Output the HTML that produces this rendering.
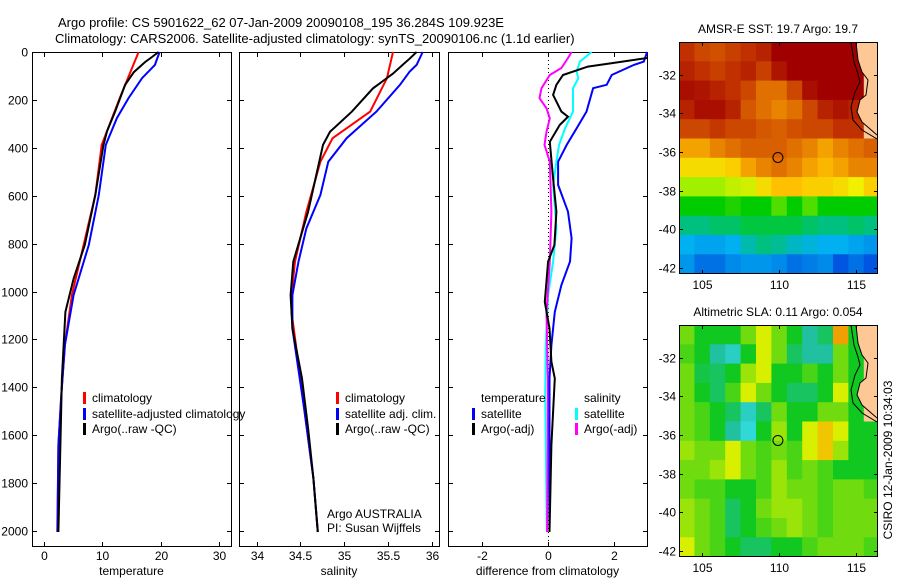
<!DOCTYPE html>
<html><head><meta charset="utf-8"><style>
body{margin:0;background:#fff;}
svg{display:block;font-family:"Liberation Sans",sans-serif;}
</style></head><body>
<svg id="fig" width="900" height="580" viewBox="0 0 900 580" xmlns="http://www.w3.org/2000/svg">
<rect width="900" height="580" fill="#fff"/>
<text x="58" y="27" font-size="13">Argo profile: CS 5901622_62 07-Jan-2009 20090108_195 36.284S 109.923E</text>
<text x="55" y="43" font-size="13">Climatology: CARS2006. Satellite-adjusted climatology: synTS_20090106.nc (1.1d earlier)</text>
<g id="panels"></g>
<g id="maps"></g>
<text transform="translate(892,460) rotate(-90)" text-anchor="middle" font-size="12">CSIRO 12-Jan-2009 10:34:03</text>
</svg>
<script>
// ---- Temperature panel data ----
const tClimDepth=[0,192,388,597,806,1015,1223,1432,1641,2004];
const tClimVal=[16.2,13.0,9.9,8.8,6.8,4.8,3.6,3.0,2.5,2.3];
const tSatDepth=[0,54,109,192,276,388,597,806,1015,1223,1432,1641,2004];
const tSatVal=[19.8,19.0,16.8,14.5,12.5,10.6,9.4,7.7,5.1,3.6,3.0,2.5,2.35];
const tArgoDepth=[0,21,42,84,137,248,331,388,597,806,946,1085,1363,2004];
const tArgoVal=[19.6,18.5,17.3,15.4,13.9,12.2,10.8,10.2,8.8,7.0,5.1,3.7,3.1,2.5];
// ---- Salinity panel data ----
const sClimDepth=[0,110,249,360,458,667,875,1015,1085,1223,1502,1780,2004];
const sClimVal=[35.56,35.49,35.30,34.87,34.73,34.57,34.44,34.40,34.40,34.45,34.55,34.65,34.70];
const sSatDepth=[0,54,82,137,249,360,458,597,736,875,1015,1154,1502,1780,2004];
const sSatVal=[35.90,35.83,35.75,35.64,35.37,35.03,34.82,34.73,34.57,34.48,34.41,34.41,34.55,34.65,34.70];
const sArgoDepth=[0,28,54,90,152,249,333,388,667,875,1015,1154,1363,1571,1780,2004];
const sArgoVal=[35.83,35.75,35.67,35.56,35.33,35.09,34.84,34.76,34.59,34.42,34.39,34.41,34.52,34.59,34.65,34.70];
// ---- Difference panel data ----
const dTSatDepth=[0,40,54,96,137,151,249,319,388,458,555,667,778,875,973,1085,1224,1363,2004];
const dTSatVal=[3.0,2.9,2.6,1.93,1.78,1.37,1.17,0.87,0.57,0.31,0.31,0.61,0.72,0.67,0.41,0.21,0.11,0.05,0.05];
const dTArgoDepth=[25,46,61,96,137,179,249,270,305,375,528,667,806,875,1043,1154,1293,1363,1641,2004];
const dTArgoVal=[3.0,1.97,1.21,0.46,0.26,0.16,0.41,0.61,0.36,0.06,0.16,0.26,0.2,0.01,-0.09,0.05,0.11,0.21,0.11,0.05];
const dSSatDepth=[0,40,82,110,151,249,319,388,458,555,736,875,1015,1224,1432,1641,2004];
const dSSatVal=[1.32,0.97,0.87,0.92,0.76,0.76,0.52,0.34,0.26,0.16,0.26,0.16,0.01,-0.06,-0.08,-0.06,-0.03];
const dSArgoDepth=[0,25,67,96,151,193,235,277,333,388,458,667,875,1085,1363,1641,2004];
const dSArgoVal=[0.72,0.61,0.41,0.06,-0.19,-0.25,-0.04,0.06,-0.04,-0.1,0.06,0.11,0.06,-0.04,0.0,0.0,-0.02];
const depthTicks=[0,200,400,600,800,1000,1200,1400,1600,1800,2000];
const tTicks=[0,10,20,30];
const sTicks=[34,34.5,35,35.5,36];
const dTicks=[-2,0,2];
// ---- Map data (1-degree cells, rows from north, -1 = land) ----
const mapLonStart=103.5, mapLatStart=-30.3;
const sstGrid=[
[.88,.85,.84,.86,.88,.9,.95,.95,.95,.95,.95,.95,-1],
[.9,.88,.86,.88,.9,.86,.92,.95,.95,.95,.95,.95,-1],
[.93,.92,.9,.88,.85,.8,.8,.85,.93,.95,.95,.95,-1],
[.9,.93,.93,.9,.83,.8,.78,.8,.85,.9,.92,.9,-1],
[.85,.85,.87,.85,.85,.83,.82,.84,.85,.85,.88,.88,-1],
[.75,.75,.78,.8,.82,.82,.82,.8,.78,.75,.78,.8,.82],
[.68,.68,.68,.7,.75,.78,.8,.78,.75,.73,.75,.78,.78],
[.6,.6,.6,.62,.63,.68,.72,.72,.7,.7,.68,.65,.7],
[.5,.5,.5,.52,.5,.5,.55,.5,.55,.5,.5,.5,.5],
[.4,.4,.42,.42,.45,.45,.45,.45,.42,.4,.4,.42,.4],
[.3,.28,.28,.3,.36,.4,.38,.34,.32,.3,.3,.28,.26],
[.26,.2,.2,.24,.26,.26,.24,.2,.22,.24,.16,.2,.16]];
const slaGrid=[
[.6,.55,.55,.55,.6,.65,.6,.55,.45,.5,.75,.55,-1],
[.58,.55,.45,.42,.55,.65,.6,.5,.45,.45,.6,.55,-1],
[.6,.52,.5,.55,.62,.65,.55,.55,.58,.55,.6,.55,-1],
[.6,.55,.5,.58,.65,.6,.55,.5,.5,.55,.65,.55,-1],
[.6,.58,.55,.5,.42,.5,.6,.55,.55,.6,.6,.55,-1],
[.6,.58,.55,.45,.4,.55,.62,.55,.65,.72,.65,.55,.55],
[.62,.6,.6,.65,.6,.58,.6,.58,.65,.72,.62,.55,.55],
[.6,.6,.62,.65,.6,.58,.62,.58,.6,.58,.55,.55,.55],
[.6,.58,.58,.55,.55,.58,.62,.6,.6,.58,.6,.6,.58],
[.62,.6,.58,.5,.55,.6,.62,.62,.6,.58,.6,.6,.6],
[.62,.6,.58,.5,.55,.58,.6,.62,.6,.58,.6,.6,.6],
[.65,.6,.58,.55,.5,.5,.55,.55,.58,.6,.6,.6,.58]];
const lonTicks=[105,110,115];
const latTicks=[-32,-34,-36,-38,-40,-42];
const argoLon=109.923, argoLat=-36.284;

const NS="http://www.w3.org/2000/svg";
function mk(tag,attrs,parent){const e=document.createElementNS(NS,tag);for(const k in attrs)e.setAttribute(k,attrs[k]);parent.appendChild(e);return e;}
const panelsG=document.getElementById('panels');
const pTop=52, pBot=546;
const yDepth=d=>pTop+d*0.2395;

function panel(name,x0,x1,xScale,ticks,label,showY){
  const g=mk('g',{},panelsG);
  
  
  const fr=mk('rect',{x:x0+.5,y:pTop+.5,width:x1-x0,height:pBot-pTop,fill:'none',stroke:'#000','stroke-width':1},g);
  
  
  depthTicks.forEach(d=>{
    const y=Math.round(yDepth(d))+.5;
    mk('line',{x1:x0,x2:x0+5,y1:y,y2:y,stroke:'#000'},g);
    mk('line',{x1:x1-4,x2:x1+1,y1:y,y2:y,stroke:'#000'},g);
    if(showY){const t=mk('text',{x:x0-4,y:y+4,'text-anchor':'end','font-size':12},g);t.textContent=d;
      
      }
  });
  ticks.forEach(v=>{
    const x=Math.round(xScale(v))+.5;
    mk('line',{x1:x,x2:x,y1:pTop,y2:pTop+5,stroke:'#000'},g);
    mk('line',{x1:x,x2:x,y1:pBot-4,y2:pBot+1,stroke:'#000'},g);
    const t=mk('text',{x:x,y:pBot+14,'text-anchor':'middle','font-size':12},g);t.textContent=v;
    
    
  });
  const l=mk('text',{x:(x0+x1)/2,y:575,'text-anchor':'middle','font-size':12},g);l.textContent=label;
  
  
  return g;
}
function series(g,name,depths,vals,xScale,color){
  const pts=depths.map((d,i)=>xScale(vals[i]).toFixed(1)+','+yDepth(d).toFixed(1)).join(' ');
  const p=mk('polyline',{points:pts,fill:'none',stroke:color,'stroke-width':2},g);
  
  
}
function legend(g,x,y,color,text,name){
  if(color){mk('rect',{x:x,y:y-10,width:3,height:12,fill:color},g);}
  const t=mk('text',{x:x+9,y:y,'font-size':12},g);t.textContent=text;
  
  
}
// Temperature
const xT=v=>43.8+v*5.85;
let g=panel('temperature',32,231,xT,tTicks,'temperature',true);
series(g,'temperature-climatology-line',tClimDepth,tClimVal,xT,'#ff0000');
series(g,'temperature-satellite-line',tSatDepth,tSatVal,xT,'#0000ff');
series(g,'temperature-argo-line',tArgoDepth,tArgoVal,xT,'#000');
legend(g,83,402,'#ff0000','climatology','legend-climatology');
legend(g,83,418,'#0000ff','satellite-adjusted climatology','legend-satellite-adjusted');
legend(g,83,433,'#000','Argo(..raw -QC)','legend-argo');
// Salinity
const xS=v=>256.5+(v-34)*87.5;
g=panel('salinity',239,439,xS,sTicks,'salinity',false);
series(g,'salinity-climatology-line',sClimDepth,sClimVal,xS,'#ff0000');
series(g,'salinity-satellite-line',sSatDepth,sSatVal,xS,'#0000ff');
series(g,'salinity-argo-line',sArgoDepth,sArgoVal,xS,'#000');
legend(g,336,402,'#ff0000','climatology','legend-climatology');
legend(g,336,418,'#0000ff','satellite adj. clim.','legend-satellite-adj');
legend(g,336,433,'#000','Argo(..raw -QC)','legend-argo');
legend(g,318,518,null,'Argo AUSTRALIA','argo-australia-note');
legend(g,318,532,null,'PI: Susan Wijffels','pi-note');
// Difference
const xD=v=>547.8+v*33.1;
g=panel('difference',448,647,xD,dTicks,'difference from climatology',false);
mk('line',{x1:548.5,x2:548.5,y1:pTop,y2:pBot,stroke:'#000','stroke-dasharray':'1,3'},g);
series(g,'diff-salinity-satellite-line',dSSatDepth,dSSatVal,xD,'#00ffff');
series(g,'diff-salinity-argo-line',dSArgoDepth,dSArgoVal,xD,'#ff00ff');
series(g,'diff-temperature-satellite-line',dTSatDepth,dTSatVal,xD,'#0000ff');
series(g,'diff-temperature-argo-line',dTArgoDepth,dTArgoVal,xD,'#000');
legend(g,472,402,null,'temperature','legend-temperature-heading');
legend(g,472,418,'#0000ff','satellite','legend-temp-satellite');
legend(g,472,433,'#000','Argo(-adj)','legend-temp-argo');
legend(g,575,402,null,'salinity','legend-salinity-heading');
legend(g,575,418,'#00ffff','satellite','legend-sal-satellite');
legend(g,575,433,'#ff00ff','Argo(-adj)','legend-sal-argo');

// ---- Maps ----
function hex(c){return [parseInt(c.slice(1,3),16),parseInt(c.slice(3,5),16),parseInt(c.slice(5,7),16)];}
function pal(stops,v){
  if(v<=stops[0][0])return stops[0][1];
  for(let i=1;i<stops.length;i++){if(v<=stops[i][0]){const a=stops[i-1],b=stops[i];const t=(v-a[0])/(b[0]-a[0]);const ca=hex(a[1]),cb=hex(b[1]);return 'rgb('+ca.map((x,j)=>Math.round(x+(cb[j]-x)*t)).join(',')+')';}}
  return stops[stops.length-1][1];
}
const sstPal=[[0,'#0020a0'],[.15,'#0050e0'],[.3,'#00b0f0'],[.4,'#00c080'],[.5,'#00cc00'],[.6,'#a0f000'],[.65,'#f0f000'],[.72,'#ffc000'],[.8,'#e07000'],[.88,'#c03000'],[.95,'#a00000']];
const slaPal=[[.4,'#30d8d8'],[.45,'#20c0a0'],[.55,'#10c820'],[.6,'#70dc10'],[.65,'#d8f000'],[.7,'#f0e000'],[.75,'#f0a000']];
const mapsG=document.getElementById('maps');
function drawMap(name,y0,grid,palette,title){
  const x0=679,x1=877,y1=y0+231;
  const px=lon=>x0+(lon-mapLonStart)*15.4;
  const py=lat=>y0+(mapLatStart-lat)*19.3;
  const g=mk('g',{},mapsG);
  
  
  const cid=name+'-clip';
  const cp=mk('clipPath',{id:cid},g);mk('rect',{x:x0,y:y0,width:x1-x0,height:y1-y0},cp);
  const cg=mk('g',{'clip-path':'url(#'+cid+')'},g);
  grid.forEach((row,r)=>row.forEach((v,c)=>{
    const cell=mk('rect',{x:px(mapLonStart+c).toFixed(1),y:py(mapLatStart-r).toFixed(1),width:16,height:20,fill:v<0?'#fdc896':pal(palette,v)},cg);
    
    
  }));
  const land='M856 '+y0+' L858 '+(y0+18)+' L862 '+(y0+30)+' L868 '+(y0+38)+' L866 '+(y0+53)+' L860 '+(y0+58)+' L857 '+(y0+70)+' L862 '+(y0+80)+' L877 '+(y0+93);
  mk('path',{d:land+' L877 '+y0+' Z',fill:'#fdc896',stroke:'none'},cg);
  const coast=mk('path',{d:land,fill:'none',stroke:'#000','stroke-width':1},cg);
  
  
  mk('path',{d:'M851 '+y0+' L854 '+(y0+20)+' L858 '+(y0+32)+' L860 '+(y0+40)+' L855 '+(y0+50)+' L851 '+(y0+65)+' L853 '+(y0+78)+' L862 '+(y0+88)+' L877 '+(y0+97),fill:'none',stroke:'#000','stroke-width':1},cg);
  const fr=mk('rect',{x:x0+.5,y:y0+.5,width:x1-x0,height:y1-y0,fill:'none',stroke:'#000'},g);
  
  
  lonTicks.forEach(v=>{const x=Math.round(px(v))+.5;
    mk('line',{x1:x,x2:x,y1:y0,y2:y0+4,stroke:'#000'},g);mk('line',{x1:x,x2:x,y1:y1-3,y2:y1+1,stroke:'#000'},g);
    const t=mk('text',{x:x,y:y1+16,'text-anchor':'middle','font-size':12},g);t.textContent=v;
    
    });
  latTicks.forEach(v=>{const y=Math.round(py(v))+.5;
    mk('line',{x1:x0,x2:x0+4,y1:y,y2:y,stroke:'#000'},g);mk('line',{x1:x1-3,x2:x1+1,y1:y,y2:y,stroke:'#000'},g);
    const t=mk('text',{x:x0-3,y:y+4,'text-anchor':'end','font-size':12},g);t.textContent=v;
    
    });
  const c=mk('circle',{cx:px(argoLon),cy:py(argoLat),r:5,fill:'none',stroke:'#000'},g);
  
  
  const t=mk('text',{x:778,y:y0-9,'text-anchor':'middle','font-size':12},g);t.textContent=title;
  
  
}
drawMap('sst',42,sstGrid,sstPal,'AMSR-E SST: 19.7 Argo: 19.7');
drawMap('sla',325,slaGrid,slaPal,'Altimetric SLA: 0.11 Argo: 0.054');
</script>
</body></html>
